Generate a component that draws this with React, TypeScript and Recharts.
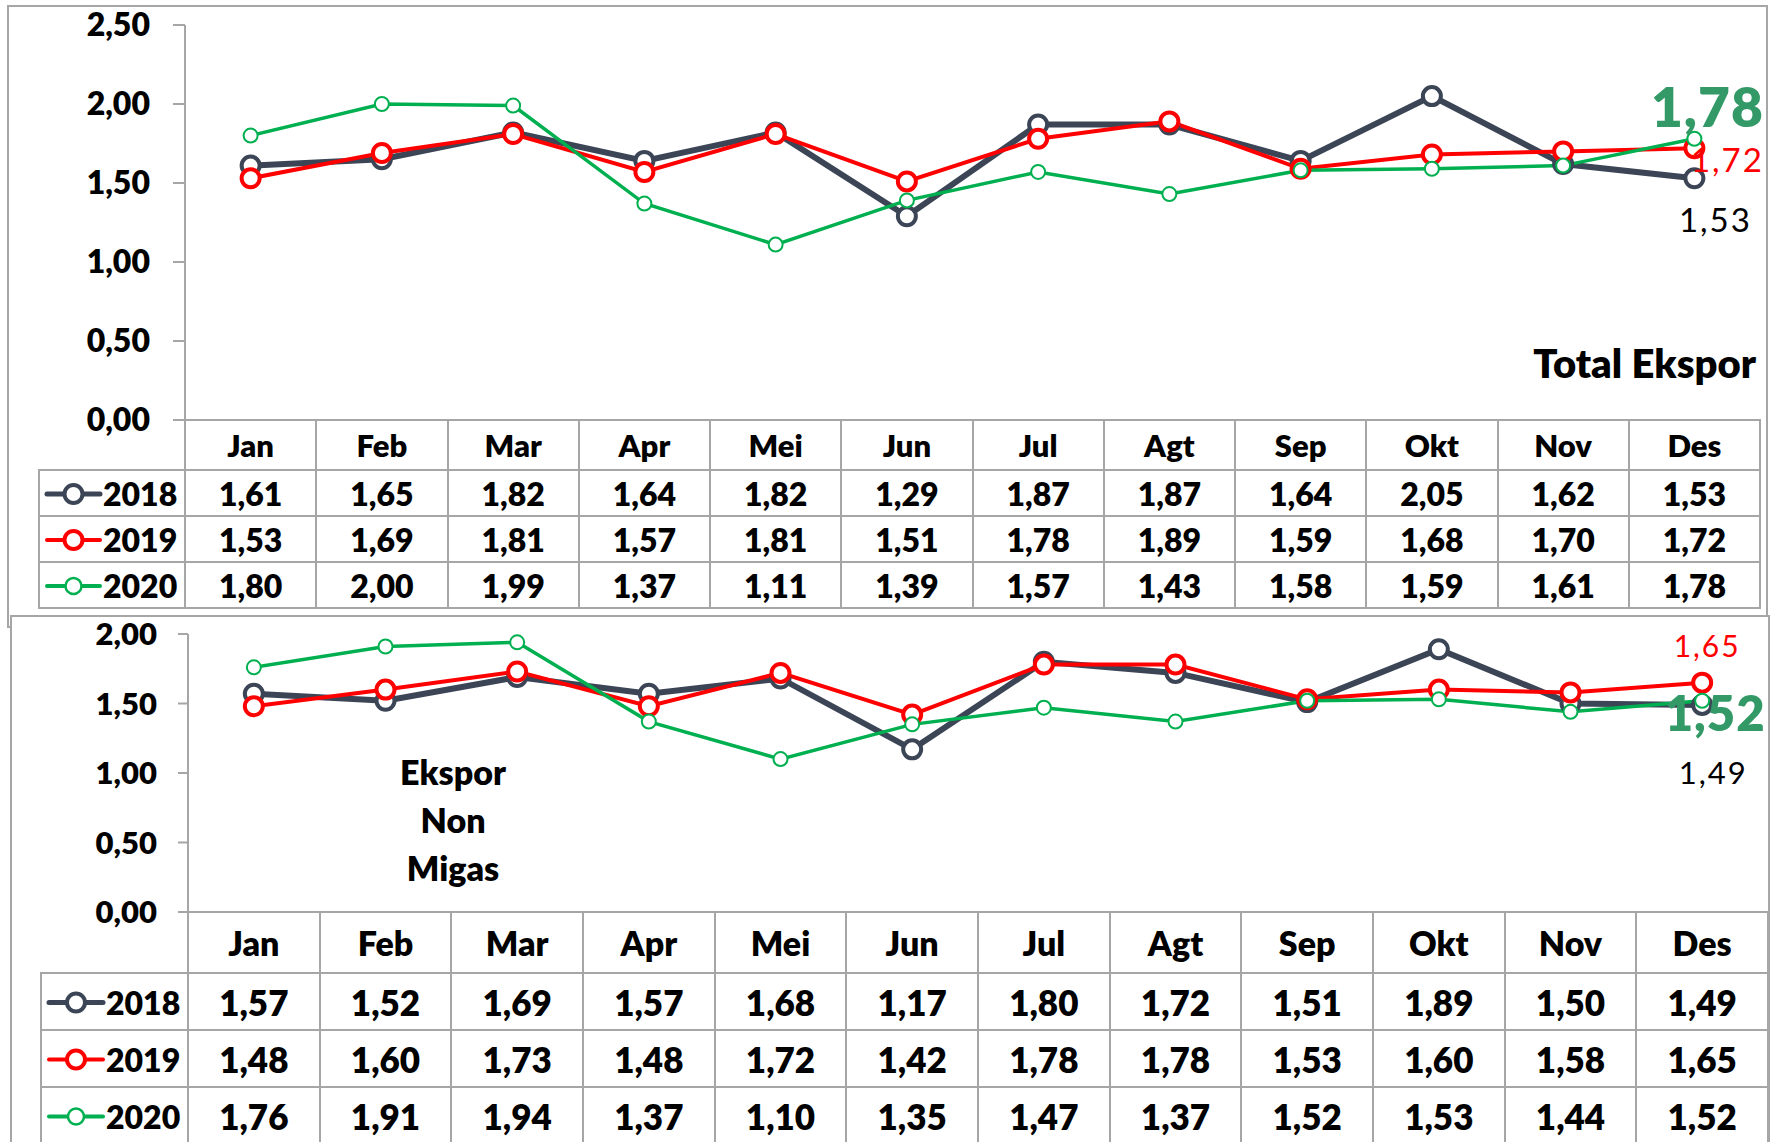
import React from 'react';
import { LineChart, Line, XAxis, YAxis, LabelList } from 'recharts';

const months = ['Jan', 'Feb', 'Mar', 'Apr', 'Mei', 'Jun', 'Jul', 'Agt', 'Sep', 'Okt', 'Nov', 'Des'];
const years = ['2018', '2019', '2020'];

// Total Ekspor
const total2018 = [1.61, 1.65, 1.82, 1.64, 1.82, 1.29, 1.87, 1.87, 1.64, 2.05, 1.62, 1.53];
const total2019 = [1.53, 1.69, 1.81, 1.57, 1.81, 1.51, 1.78, 1.89, 1.59, 1.68, 1.70, 1.72];
const total2020 = [1.80, 2.00, 1.99, 1.37, 1.11, 1.39, 1.57, 1.43, 1.58, 1.59, 1.61, 1.78];

// Ekspor Non Migas
const nonMigas2018 = [1.57, 1.52, 1.69, 1.57, 1.68, 1.17, 1.80, 1.72, 1.51, 1.89, 1.50, 1.49];
const nonMigas2019 = [1.48, 1.60, 1.73, 1.48, 1.72, 1.42, 1.78, 1.78, 1.53, 1.60, 1.58, 1.65];
const nonMigas2020 = [1.76, 1.91, 1.94, 1.37, 1.10, 1.35, 1.47, 1.37, 1.52, 1.53, 1.44, 1.52];

const totalTicks = [0, 0.5, 1, 1.5, 2, 2.5];
const nonMigasTicks = [0, 0.5, 1, 1.5, 2];

const FONT = "Lato, 'Open Sans', sans-serif";
const BOLD = 800;
const GRID = '#A6A6A6';

const SERIES = [
  { key: 'y2018', color: '#3B4556', width: 6, r: 9, dotW: 4 },
  { key: 'y2019', color: '#FF0000', width: 4, r: 9, dotW: 4 },
  { key: 'y2020', color: '#00B050', width: 3.5, r: 7, dotW: 2 },
];

const fmt = (v: number) => v.toFixed(2).replace('.', ',');

const buildRows = (a: number[], b: number[], c: number[]) =>
  months.map((m, i) => ({ month: m, y2018: a[i], y2019: b[i], y2020: c[i] }));

type EndLabel = { dx: number; dy: number; size: number; bold: boolean; color: string };

type PanelProps = {
  rows: any[];
  series: number[][];
  ticks: number[];
  box: { left: number; top: number; right: number; bottom: number };
  plot: { left: number; right: number; top: number; bottom: number };
  tickSize: number;
  tickMargin: number;
  tickFont: number;
  legendLeft: number;
  headerH: number;
  rowH: number;
  headerFont: number;
  cellFont: number;
  legendFont: number;
  legendLine: [number, number];
  endLabels: EndLabel[];
};

function LegendIcon({ s, x0, x1, h }: { s: typeof SERIES[0]; x0: number; x1: number; h: number }) {
  const cx = (x0 + x1) / 2;
  return (
    <svg width={x1 + 4} height={h} style={{ position: 'absolute', left: 0, top: 0 }}>
      <line x1={x0} x2={x1} y1={h / 2} y2={h / 2} stroke={s.color} strokeWidth={s.key === 'y2018' ? 5 : 4} strokeLinecap="round" />
      <circle cx={cx} cy={h / 2} r={s.key === 'y2020' ? 8 : 9} fill="#fff" stroke={s.color} strokeWidth={s.key === 'y2020' ? 2.5 : 4} />
    </svg>
  );
}

function Panel(p: PanelProps) {
  const colW = (p.plot.right - p.plot.left) / months.length;
  const chartTop = p.plot.top - 20;
  const chartH = p.plot.bottom - p.plot.top + 40;
  const cells: React.ReactNode[] = [];
  const cellStyle = (left: number, top: number, w: number, h: number): React.CSSProperties => ({
    position: 'absolute', left: left - 1, top: top - 1, width: w + 2, height: h + 2,
    boxSizing: 'border-box', border: `2px solid ${GRID}`, display: 'flex',
    alignItems: 'center', justifyContent: 'center', fontFamily: FONT, fontWeight: BOLD, color: '#000',
  });

  months.forEach((m, i) => {
    cells.push(
      <div key={'h' + i} style={{ ...cellStyle(p.plot.left + i * colW, p.plot.bottom, colW, p.headerH), fontSize: p.headerFont }}>{m}</div>
    );
  });
  years.forEach((y, r) => {
    const top = p.plot.bottom + p.headerH + r * p.rowH;
    cells.push(
      <div key={'l' + r} style={{ ...cellStyle(p.legendLeft, top, p.plot.left - p.legendLeft, p.rowH), justifyContent: 'flex-start' }}>
        <div style={{ position: 'relative', width: '100%', height: '100%' }}>
          <LegendIcon s={SERIES[r]} x0={p.legendLine[0] - p.legendLeft} x1={p.legendLine[1] - p.legendLeft} h={p.rowH} />
          <span style={{ position: 'absolute', left: p.legendLine[1] - p.legendLeft + 3, top: 0, lineHeight: p.rowH + 'px', fontSize: p.legendFont }}>{y}</span>
        </div>
      </div>
    );
    p.series[r].forEach((v, i) => {
      cells.push(
        <div key={'c' + r + '-' + i} style={{ ...cellStyle(p.plot.left + i * colW, top, colW, p.rowH), fontSize: p.cellFont }}>{fmt(v)}</div>
      );
    });
  });

  const renderEnd = (idx: number) => (props: any) => {
    if (props.index !== months.length - 1) return null;
    const lab = p.endLabels[idx];
    const x = Number(props.x) + lab.dx;
    const y = Number(props.y) + lab.dy;
    return (
      <text x={x} y={y} textAnchor="middle" dominantBaseline="central" fontFamily={FONT}
        fontSize={lab.size} fontWeight={lab.bold ? BOLD : 400} fill={lab.color} letterSpacing={lab.bold ? 1 : 2}>
        {fmt(Number(props.value))}
      </text>
    );
  };

  return (
    <>
      <div style={{
        position: 'absolute', left: p.box.left, top: p.box.top, width: p.box.right - p.box.left,
        height: p.box.bottom - p.box.top, border: `2px solid ${GRID}`, background: '#fff', boxSizing: 'border-box',
      }} />
      <div style={{ position: 'absolute', left: 0, top: chartTop }}>
        <LineChart width={1777} height={chartH} data={p.rows}
          margin={{ top: 20, right: 1777 - p.plot.right, bottom: 20, left: 0 }} style={{ overflow: 'visible' }}>
          <XAxis dataKey="month" hide padding={{ left: colW / 2, right: colW / 2 }} />
          <YAxis width={p.plot.left} domain={[0, p.ticks[p.ticks.length - 1]]} ticks={p.ticks}
            tickFormatter={fmt} axisLine={{ stroke: GRID, strokeWidth: 2 }} tickLine={{ stroke: GRID, strokeWidth: 2 }}
            tickSize={p.tickSize} tickMargin={p.tickMargin}
            tick={{ fill: '#000', fontSize: p.tickFont, fontWeight: BOLD, fontFamily: FONT }} interval={0} />
          {SERIES.map((s, i) => (
            <Line key={s.key} dataKey={s.key} stroke={s.color} strokeWidth={s.width} type="linear"
              dot={{ r: s.r, fill: '#fff', stroke: s.color, strokeWidth: s.dotW }} activeDot={false}
              isAnimationActive={false}>
              <LabelList dataKey={s.key} content={renderEnd(i)} />
            </Line>
          ))}
        </LineChart>
      </div>
      {cells}
    </>
  );
}

export default function App() {
  const totalRows = buildRows(total2018, total2019, total2020);
  const nonMigasRows = buildRows(nonMigas2018, nonMigas2019, nonMigas2020);
  return (
    <div style={{ position: 'absolute', left: 0, top: 0, width: 1777, height: 1142, overflow: 'hidden', background: '#fff', fontFamily: FONT }}>
      <Panel
        rows={totalRows}
        series={[total2018, total2019, total2020]}
        ticks={totalTicks}
        box={{ left: 7, top: 5, right: 1768, bottom: 628 }}
        plot={{ left: 185, right: 1760, top: 25, bottom: 420 }}
        tickSize={12} tickMargin={23} tickFont={32}
        legendLeft={39} headerH={50} rowH={46} headerFont={31} cellFont={32} legendFont={32}
        legendLine={[46, 99]}
        endLabels={[
          { dx: 21, dy: 41, size: 33, bold: false, color: '#000' },
          { dx: 33, dy: 11, size: 33, bold: false, color: '#FF0000' },
          { dx: 13, dy: -33, size: 55, bold: true, color: '#339966' },
        ]}
      />
      <div style={{
        position: 'absolute', right: 1777 - 1756, top: 340, fontFamily: FONT, fontWeight: BOLD, fontSize: 40,
        lineHeight: '46px', color: '#000', whiteSpace: 'nowrap',
      }}>Total Ekspor</div>
      <Panel
        rows={nonMigasRows}
        series={[nonMigas2018, nonMigas2019, nonMigas2020]}
        ticks={nonMigasTicks}
        box={{ left: 10, top: 615, right: 1770, bottom: 1160 }}
        plot={{ left: 188, right: 1768, top: 634, bottom: 912 }}
        tickSize={10} tickMargin={21} tickFont={31}
        legendLeft={41} headerH={61} rowH={57} headerFont={34} cellFont={35} legendFont={32}
        legendLine={[48, 102]}
        endLabels={[
          { dx: 11, dy: 67, size: 31, bold: false, color: '#000' },
          { dx: 5, dy: -38, size: 30, bold: false, color: '#FF0000' },
          { dx: 13, dy: 11, size: 49, bold: true, color: '#339966' },
        ]}
      />
      <div style={{
        position: 'absolute', left: 453 - 100, width: 200, top: 748, textAlign: 'center', fontFamily: FONT,
        fontWeight: BOLD, fontSize: 34, lineHeight: '48px', color: '#000',
      }}>Ekspor<br />Non<br />Migas</div>
    </div>
  );
}
